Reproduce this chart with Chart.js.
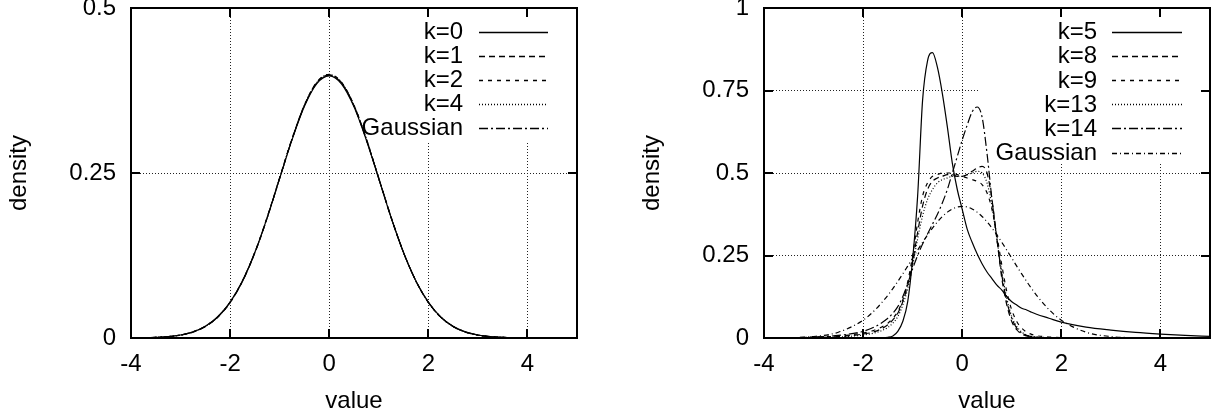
<!DOCTYPE html>
<html><head><meta charset="utf-8">
<script src="https://cdn.jsdelivr.net/npm/chart.js@4"></script>
<style>
html,body{margin:0;padding:0;background:#fff;width:1213px;height:419px;overflow:hidden}
.w{position:absolute;top:0;height:419px}
</style></head><body>
<div class="w" style="left:0;width:600px"><canvas id="c1" width="600" height="419"></canvas></div>
<div class="w" style="left:600px;width:613px"><canvas id="c2" width="613" height="419"></canvas></div>
<script>
// ---------- data: left panel ----------
const xLeft = [-4,-3.75,-3.5,-3.25,-3,-2.75,-2.5,-2.25,-2,-1.75,-1.5,-1.25,-1,-0.75,-0.5,-0.25,0,0.25,0.5,0.75,1,1.25,1.5,1.75,2,2.25,2.5,2.75,3,3.25,3.5,3.75,4,4.25,4.5,4.75,5];
const leftK0 = [0.0001,0.0004,0.001,0.0021,0.0045,0.0093,0.0178,0.0322,0.0545,0.0868,0.1298,0.1828,0.2418,0.3005,0.3512,0.3855,0.3972,0.3848,0.3502,0.2996,0.2412,0.1822,0.1294,0.0864,0.0543,0.0318,0.0176,0.0092,0.0045,0.002,0.0009,0.0004,0.0001,0,0,0,0];
const leftK1 = [0.0001,0.0003,0.0008,0.0019,0.0043,0.009,0.0173,0.0314,0.0536,0.0858,0.1291,0.1824,0.2423,0.3018,0.3527,0.3874,0.3982,0.3859,0.3514,0.3004,0.2416,0.1823,0.1293,0.0861,0.0539,0.0316,0.0174,0.009,0.0043,0.0019,0.0009,0.0004,0.0001,0,0,0,0];
const leftK2 = [0.0001,0.0004,0.0009,0.0021,0.0046,0.0094,0.0179,0.0321,0.0543,0.0866,0.1301,0.1835,0.2431,0.3022,0.3531,0.3878,0.3995,0.3873,0.3526,0.3014,0.2422,0.1827,0.1296,0.0864,0.0541,0.0317,0.0175,0.0091,0.0044,0.002,0.0009,0.0004,0.0001,0,0,0,0];
const leftK4 = [0.0001,0.0004,0.0009,0.002,0.0044,0.0092,0.0176,0.0318,0.0541,0.0864,0.1297,0.1829,0.2424,0.3015,0.3525,0.3871,0.3992,0.387,0.3524,0.3013,0.2421,0.1826,0.1295,0.0863,0.054,0.0317,0.0175,0.0091,0.0044,0.002,0.0009,0.0004,0.0001,0,0,0,0];
const leftGauss = [0.0001,0.0004,0.0009,0.002,0.0044,0.0091,0.0175,0.0317,0.054,0.0863,0.1295,0.1826,0.242,0.3011,0.3521,0.3867,0.3989,0.3867,0.3521,0.3011,0.242,0.1826,0.1295,0.0863,0.054,0.0317,0.0175,0.0091,0.0044,0.002,0.0009,0.0004,0.0001,0,0,0,0];
const leftLabels = ["k=0","k=1","k=2","k=4","Gaussian"];
const leftXTicks = [-4,-2,0,2,4];
const leftYTicks = [0,0.25,0.5];

// ---------- data: right panel ----------
const xRight = [-4,-3.5,-3,-2.5,-2,-1.75,-1.5,-1.4,-1.3,-1.2,-1.1,-1,-0.9,-0.8,-0.7,-0.6,-0.5,-0.4,-0.3,-0.2,-0.1,0,0.1,0.2,0.3,0.4,0.5,0.6,0.7,0.8,0.9,1,1.1,1.2,1.3,1.4,1.5,1.75,2,2.5,3,3.5,4,4.5,5];
const rightK5  = [0,0,0,0,0,0,0.002,0.006,0.02,0.05,0.11,0.24,0.43,0.72,0.84,0.865,0.82,0.74,0.64,0.53,0.45,0.39,0.33,0.29,0.255,0.225,0.2,0.18,0.16,0.145,0.125,0.11,0.1,0.09,0.085,0.078,0.072,0.06,0.048,0.033,0.024,0.017,0.012,0.008,0.005];
const rightK8  = [0,0,0.001,0.004,0.012,0.02,0.04,0.055,0.075,0.11,0.16,0.23,0.32,0.4,0.45,0.475,0.485,0.49,0.495,0.495,0.49,0.49,0.495,0.505,0.515,0.52,0.5,0.42,0.3,0.18,0.1,0.05,0.025,0.012,0.006,0.003,0.002,0.001,0,0,0,0,0,0,0];
const rightK9  = [0,0.001,0.002,0.006,0.015,0.025,0.045,0.06,0.08,0.115,0.17,0.25,0.35,0.43,0.47,0.49,0.495,0.5,0.5,0.5,0.495,0.49,0.485,0.48,0.475,0.465,0.44,0.39,0.31,0.22,0.14,0.085,0.05,0.03,0.018,0.011,0.007,0.003,0.001,0,0,0,0,0,0];
const rightK13 = [0,0,0.001,0.003,0.009,0.016,0.032,0.045,0.065,0.1,0.15,0.22,0.3,0.37,0.42,0.45,0.47,0.48,0.485,0.49,0.49,0.49,0.495,0.5,0.505,0.5,0.47,0.4,0.3,0.2,0.12,0.065,0.035,0.018,0.009,0.005,0.003,0.001,0,0,0,0,0,0,0];
const rightK14 = [0,0.001,0.003,0.008,0.02,0.035,0.06,0.075,0.095,0.125,0.165,0.21,0.25,0.285,0.315,0.345,0.375,0.41,0.45,0.5,0.55,0.6,0.645,0.685,0.7,0.67,0.56,0.42,0.3,0.19,0.11,0.06,0.03,0.015,0.008,0.004,0.002,0.001,0,0,0,0,0,0,0];
const rightGauss = [0.0001,0.0009,0.0044,0.0175,0.054,0.0863,0.1295,0.1497,0.1714,0.1942,0.2179,0.242,0.2661,0.2897,0.3123,0.3332,0.3521,0.3683,0.3814,0.391,0.397,0.3989,0.397,0.391,0.3814,0.3683,0.3521,0.3332,0.3123,0.2897,0.2661,0.242,0.2179,0.1942,0.1714,0.1497,0.1295,0.0863,0.054,0.0175,0.0044,0.0009,0.0001,0,0];
const rightLabels = ["k=5","k=8","k=9","k=13","k=14","Gaussian"];
const rightXTicks = [-4,-2,0,2,4];
const rightYTicks = [0,0.25,0.5,0.75,1];

// ---------- styling ----------
const FONT = {family: '"Liberation Sans", Arial, Helvetica, sans-serif', size: 24};
const dashesLeft  = [[], [6,4], [4,5], [1,2], [9,3,2,3]];
const dashesRight = [[], [6,4], [4,5], [1,2], [9,3,2,3], [5,3,1,3]];

const gnuplotLook = {
  id: 'gnuplotLook',
  beforeDatasetsDraw(chart, args, o) {
    const ctx = chart.ctx, a = chart.chartArea;
    ctx.save();
    ctx.fillStyle = '#fff';
    ctx.fillRect(o.boxLeft, a.top, a.right - o.boxLeft, o.boxBottom - a.top);
    ctx.restore();
  },
  afterDatasetsDraw(chart, args, o) {
    const ctx = chart.ctx, a = chart.chartArea;
    const xs = chart.scales.x, ys = chart.scales.y;
    ctx.save();
    ctx.strokeStyle = '#000';
    ctx.lineWidth = 2;
    ctx.setLineDash([]);
    const TL = 9;
    ctx.beginPath();
    xs.ticks.forEach(t => {
      const p = Math.round(xs.getPixelForValue(t.value));
      ctx.moveTo(p, a.bottom); ctx.lineTo(p, a.bottom - TL);
      ctx.moveTo(p, a.top); ctx.lineTo(p, a.top + TL);
    });
    ys.ticks.forEach(t => {
      const p = Math.round(ys.getPixelForValue(t.value));
      ctx.moveTo(a.left, p); ctx.lineTo(a.left + TL, p);
      ctx.moveTo(a.right, p); ctx.lineTo(a.right - TL, p);
    });
    ctx.stroke();
    ctx.strokeRect(a.left, a.top, a.right - a.left, a.bottom - a.top);
    // legend
    ctx.font = FONT.size + 'px ' + FONT.family;
    ctx.fillStyle = '#000';
    ctx.textAlign = 'right';
    ctx.textBaseline = 'middle';
    chart.data.datasets.forEach((ds, i) => {
      const y = o.rowTop + i * o.rowStep;
      ctx.fillText(ds.label, o.textRight, y + 1);
      ctx.save();
      ctx.lineWidth = 1.3;
      ctx.setLineDash(ds.borderDash);
      ctx.beginPath();
      ctx.moveTo(o.sampleLeft, Math.round(y) + 0.5);
      ctx.lineTo(o.sampleRight, Math.round(y) + 0.5);
      ctx.stroke();
      ctx.restore();
    });
    ctx.restore();
  }
};

function buildChart(id, xs, series, labels, dashes, xTicks, yTicks, yMax, cfg) {
  const datasets = series.map((ys, i) => ({
    label: labels[i],
    data: xs.map((x, j) => ({x: x, y: ys[j]})),
    borderColor: '#000',
    borderWidth: 1.2,
    borderDash: dashes[i],
    pointRadius: 0,
    fill: false,
    cubicInterpolationMode: 'monotone'
  }));
  return new Chart(document.getElementById(id), {
    type: 'line',
    data: {datasets},
    plugins: [gnuplotLook],
    options: {
      responsive: false,
      animation: false,
      devicePixelRatio: 1,
      layout: {padding: {top: 8, right: cfg.padRight, left: 0, bottom: 0}},
      plugins: {
        legend: {display: false},
        tooltip: {enabled: false},
        gnuplotLook: cfg.legend
      },
      scales: {
        x: {
          type: 'linear', min: -4, max: 5,
          afterBuildTicks: s => { s.ticks = xTicks.map(v => ({value: v})); },
          afterFit: s => { s.height = 81; s.paddingLeft = 0; s.paddingRight = 0; },
          ticks: {font: FONT, color: '#000', padding: 12, maxRotation: 0, autoSkip: false, callback: v => String(v)},
          grid: {color: '#222', lineWidth: 1, drawTicks: false},
          border: {display: false, dash: [1, 2]},
          title: {display: true, text: 'value', font: FONT, color: '#000', padding: {top: 0, bottom: 3}}
        },
        y: {
          type: 'linear', min: 0, max: yMax,
          afterBuildTicks: s => { s.ticks = yTicks.map(v => ({value: v})); },
          afterFit: s => { s.width = cfg.yWidth; s.paddingTop = 0; s.paddingBottom = 0; },
          ticks: {font: FONT, color: '#000', padding: 15, callback: v => String(v)},
          grid: {color: '#222', lineWidth: 1, drawTicks: false},
          border: {display: false, dash: [1, 2]},
          title: {display: true, text: 'density', font: FONT, color: '#000', padding: {top: cfg.titlePad, bottom: 0}}
        }
      }
    }
  });
}

buildChart('c1', xLeft, [leftK0, leftK1, leftK2, leftK4, leftGauss], leftLabels, dashesLeft,
  leftXTicks, leftYTicks, 0.5,
  {padRight: 23, yWidth: 131, titlePad: 5,
   legend: {boxLeft: 355, boxBottom: 141, textRight: 463, sampleLeft: 479, sampleRight: 548, rowTop: 31.5, rowStep: 24}});

buildChart('c2', xRight, [rightK5, rightK8, rightK9, rightK13, rightK14, rightGauss], rightLabels, dashesRight,
  rightXTicks, rightYTicks, 1,
  {padRight: 3, yWidth: 164, titlePad: 38,
   legend: {boxLeft: 378, boxBottom: 164, textRight: 497, sampleLeft: 512, sampleRight: 582, rowTop: 31.5, rowStep: 24.2}});
</script>
</body></html>
